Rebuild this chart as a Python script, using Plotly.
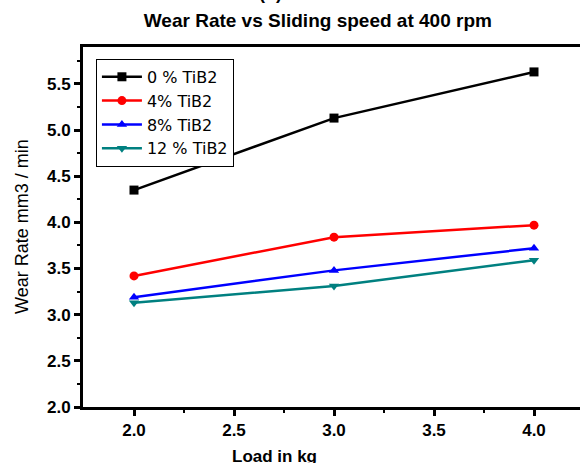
import plotly.graph_objects as go

loads = [2.0, 3.0, 4.0]
series_names = ["0 % TiB2", "4% TiB2", "8% TiB2", "12 % TiB2"]
wear_0 = [4.35, 5.13, 5.63]
wear_4 = [3.42, 3.84, 3.97]
wear_8 = [3.19, 3.48, 3.72]
wear_12 = [3.13, 3.31, 3.59]

colors = ["#000000", "#ff0000", "#0000ff", "#008080"]
symbols = ["square", "circle", "triangle-up", "triangle-down"]

fig = go.Figure()
for name, ys, c, s in zip(series_names, [wear_0, wear_4, wear_8, wear_12], colors, symbols):
    fig.add_trace(go.Scatter(x=loads, y=ys, mode="lines+markers", name=name,
                             line=dict(color=c, width=2.5),
                             marker=dict(color=c, symbol=s, size=9)))

font = "Liberation Sans, Arial, sans-serif"
wide = "DejaVu Sans, Liberation Sans, sans-serif"
narrow = "Liberation Sans Narrow, Arial Narrow, Liberation Sans, sans-serif"
fig.update_layout(
    width=580, height=463,
    margin=dict(l=83, r=0, t=47, b=56),
    plot_bgcolor="white", paper_bgcolor="white",
    font=dict(family=font, color="black"),
    showlegend=True,
    legend=dict(x=0.026, y=0.967, xanchor="left", yanchor="top",
                bordercolor="black", borderwidth=1, bgcolor="white",
                font=dict(size=16, family=wide), tracegroupgap=0,
                itemwidth=40),
    xaxis=dict(range=[1.745, 4.23], tickvals=[2.0, 2.5, 3.0, 3.5, 4.0],
               ticktext=["2.0", "2.5", "3.0", "3.5", "4.0"], automargin=False,
               showgrid=False, zeroline=False, showline=True, linecolor="black",
               linewidth=3, mirror=True, ticks="outside", ticklen=6, tickwidth=3,
               tickcolor="black",
               minor=dict(tickvals=[2.25, 2.75, 3.25, 3.75], ticks="outside", ticklen=3, tickwidth=2, tickcolor="black"),
               tickfont=dict(size=17, family=font, weight="bold")),
    yaxis=dict(range=[2.0, 5.9], tickvals=[2.0, 2.5, 3.0, 3.5, 4.0, 4.5, 5.0, 5.5],
               ticktext=["2.0", "2.5", "3.0", "3.5", "4.0", "4.5", "5.0", "5.5"], automargin=False,
               showgrid=False, zeroline=False, showline=True, linecolor="black",
               linewidth=3, mirror=False, ticks="outside", ticklen=6, tickwidth=3,
               tickcolor="black",
               minor=dict(tickvals=[2.25, 2.75, 3.25, 3.75, 4.25, 4.75, 5.25, 5.75], ticks="outside", ticklen=3, tickwidth=2, tickcolor="black"),
               tickfont=dict(size=17, family=font, weight="bold")),
    title=dict(text="<b>Wear Rate vs Sliding speed at 400 rpm</b>", x=0.548, xanchor="center",
               y=0.957, yanchor="middle", font=dict(size=19, family=font)),
    annotations=[
        dict(text="<b>(b)</b>", xref="paper", yref="paper", x=0.377, y=1.0,
             yshift=54, xanchor="center", yanchor="middle", showarrow=False,
             font=dict(size=18, family=font)),
        dict(text="<b>Load in kg</b>", xref="paper", yref="paper", x=0.385, y=0.0,
             yshift=-49, xanchor="center", yanchor="middle", showarrow=False,
             font=dict(size=17, family=font)),
        dict(text="Wear Rate mm3 / min", xref="paper", yref="paper", x=0.0, y=0.5,
             xshift=-61, xanchor="center", yanchor="middle", showarrow=False, textangle=-90,
             font=dict(size=18, family=narrow)),
    ],
)

fig.write_html("out.html", config={"displayModeBar": False},
               post_script="document.body.style.margin='0';")
